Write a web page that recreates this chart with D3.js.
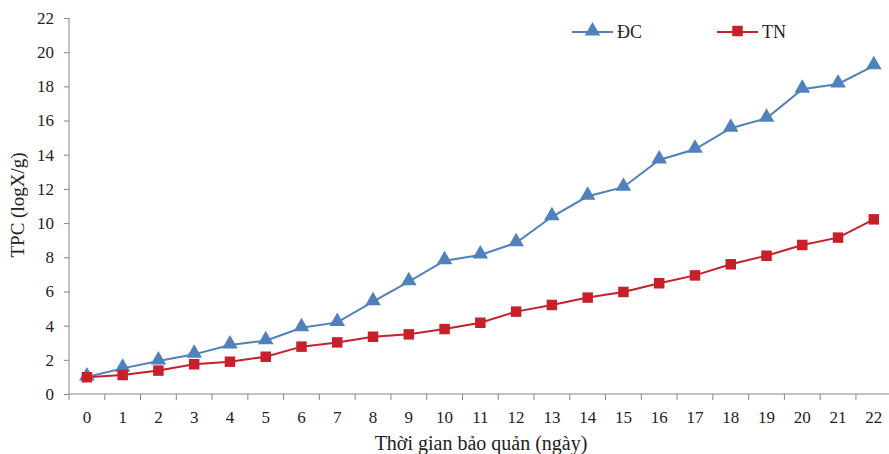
<!DOCTYPE html>
<html>
<head>
<meta charset="utf-8">
<script src="https://cdn.jsdelivr.net/npm/d3@7"></script>
<style>
  body { margin: 0; background: #fff; }
  svg { display: block; font-family: "Liberation Serif", "Times New Roman", serif; }
</style>
</head>
<body>
<svg id="chart" width="889" height="454"></svg>
<script>
const days = d3.range(0, 23);
const dcValues = [1.0, 1.5, 1.93, 2.32, 2.87, 3.12, 3.88, 4.19, 5.4, 6.57, 7.8, 8.13, 8.85,
  10.37, 11.57, 12.1, 13.69, 14.32, 15.55, 16.13, 17.83, 18.14, 19.2];
const tnValues = [0.98, 1.11, 1.37, 1.74, 1.89, 2.18, 2.77, 3.02, 3.35, 3.49, 3.8, 4.17, 4.82,
  5.21, 5.64, 5.97, 6.48, 6.94, 7.59, 8.09, 8.72, 9.15, 10.22];
const yTicks = [0, 2, 4, 6, 8, 10, 12, 14, 16, 18, 20, 22];

const blue = "#4f81bd";
const red = "#c8202a";
const axisColor = "#868686";

const svg = d3.select("#chart");

const x = d3.scaleBand().domain(days).range([69, 891.7]);
const y = d3.scaleLinear().domain([0, 22]).range([394, 18]);

// y axis
const yAxis = svg.append("g")
    .attr("transform", "translate(69,0)")
    .call(d3.axisLeft(y).tickValues(yTicks).tickSize(5).tickPadding(10));
yAxis.select(".domain").attr("stroke", axisColor).attr("d", "M0,394V18");
yAxis.selectAll(".tick line").attr("stroke", axisColor);
yAxis.selectAll(".tick text")
    .attr("fill", "#222").style("font-size", "17px").style("font-family", "Liberation Serif");

// x axis, ticks between categories
const xAxis = svg.append("g").attr("transform", "translate(0,394)");
xAxis.append("line")
    .attr("x1", 69).attr("x2", 889)
    .attr("stroke", axisColor);
xAxis.selectAll(".tk")
    .data(days.concat([23]))
    .enter().append("line")
    .attr("x1", d => 69 + d * x.step())
    .attr("x2", d => 69 + d * x.step())
    .attr("y1", 0).attr("y2", 6)
    .attr("stroke", axisColor);
xAxis.selectAll(".lbl")
    .data(days)
    .enter().append("text")
    .attr("x", d => x(d) + x.bandwidth() / 2)
    .attr("y", 29)
    .attr("text-anchor", "middle")
    .attr("fill", "#222")
    .style("font-size", "17px")
    .text(d => d);

// axis titles
svg.append("text")
    .attr("x", 481).attr("y", 450)
    .attr("text-anchor", "middle")
    .attr("fill", "#222")
    .style("font-size", "20px")
    .text("Thời gian bảo quản (ngày)");

svg.append("text")
    .attr("transform", "translate(24,205) rotate(-90)")
    .attr("text-anchor", "middle")
    .attr("fill", "#222")
    .style("font-size", "19px")
    .text("TPC (logX/g)");

const cx = d => x(d) + x.bandwidth() / 2;
const line = d3.line().x((d, i) => cx(days[i])).y(d => y(d));

// series
svg.append("path").datum(dcValues)
    .attr("d", line).attr("fill", "none").attr("stroke", blue).attr("stroke-width", 2);
svg.append("path").datum(tnValues)
    .attr("d", line).attr("fill", "none").attr("stroke", red).attr("stroke-width", 2);

const tri = d3.symbol().type(d3.symbolTriangle).size(105);
const sq = d3.symbol().type(d3.symbolSquare).size(110);

svg.selectAll(".dc")
    .data(dcValues)
    .enter().append("path")
    .attr("d", tri)
    .attr("transform", (d, i) => `translate(${cx(days[i])},${y(d) - 1})`)
    .attr("fill", blue);

svg.selectAll(".tn")
    .data(tnValues)
    .enter().append("path")
    .attr("d", sq)
    .attr("transform", (d, i) => `translate(${cx(days[i])},${y(d)})`)
    .attr("fill", red);

// legend
const legend = [
  {name: "ĐC", color: blue, shape: tri, x: 572},
  {name: "TN", color: red, shape: sq, x: 717}
];
legend.forEach(function(item) {
    const g = svg.append("g").attr("transform", `translate(${item.x},32)`);
    g.append("line").attr("x1", 0).attr("x2", 41)
        .attr("stroke", item.color).attr("stroke-width", 2);
    g.append("path").attr("d", item.shape)
        .attr("transform", "translate(20.5,-1)").attr("fill", item.color);
    g.append("text").attr("x", 45).attr("y", 6)
        .attr("fill", "#222").style("font-size", "18px")
        .text(item.name);
});
</script>
</body>
</html>
